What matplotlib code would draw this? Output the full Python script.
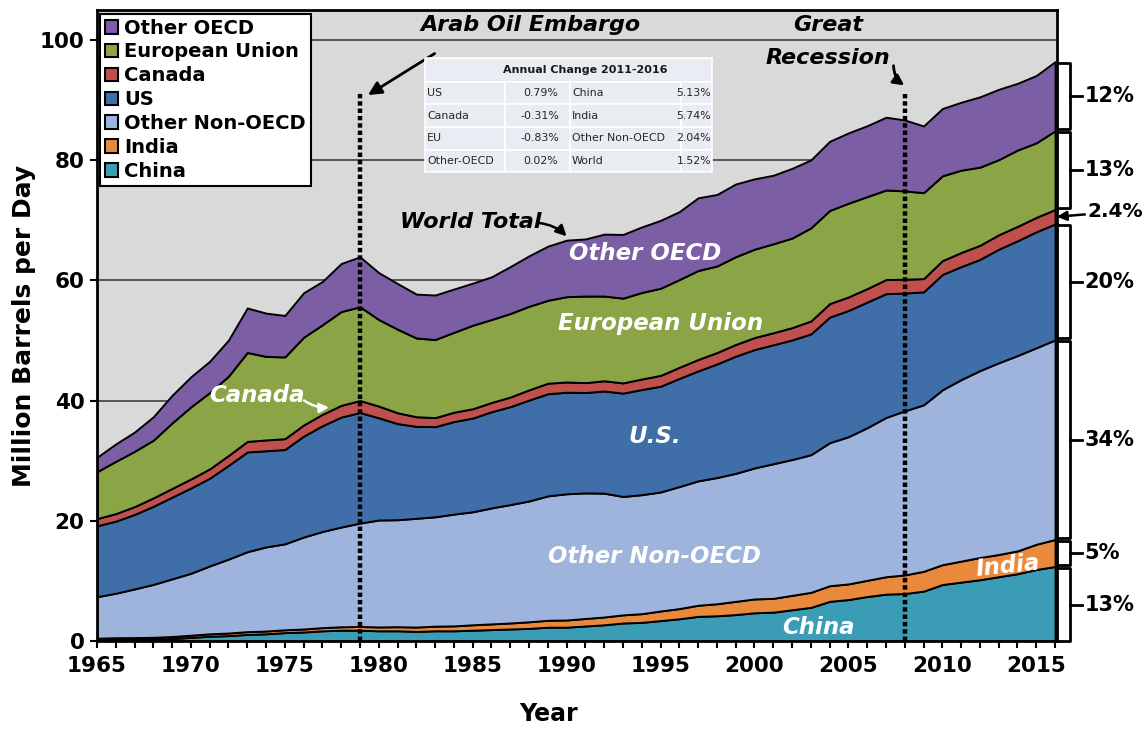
import numpy as np
import matplotlib
matplotlib.use("Agg")
import matplotlib.pyplot as plt
from matplotlib.patches import Patch, Rectangle

plt.rcParams['font.family'] = ['DejaVu Sans']

years = list(range(1965, 2017))

# million barrels per day (stack order bottom -> top)
china = [0.22, 0.28, 0.28, 0.31, 0.41, 0.6, 0.8, 0.9, 1.1, 1.2,
         1.4, 1.5, 1.7, 1.8, 1.8, 1.7, 1.7, 1.6, 1.7, 1.7,
         1.8, 1.9, 2.0, 2.1, 2.3, 2.3, 2.5, 2.7, 3.0, 3.1,
         3.4, 3.7, 4.1, 4.2, 4.4, 4.7, 4.8, 5.2, 5.6, 6.6,
         6.9, 7.4, 7.8, 7.9, 8.3, 9.4, 9.8, 10.2, 10.7, 11.2,
         11.9, 12.4]
india = [0.25, 0.27, 0.29, 0.31, 0.34, 0.37, 0.40, 0.43, 0.46, 0.46,
         0.47, 0.50, 0.53, 0.57, 0.62, 0.64, 0.68, 0.72, 0.77, 0.82,
         0.90, 0.95, 1.0, 1.1, 1.15, 1.2, 1.25, 1.3, 1.35, 1.45,
         1.6, 1.7, 1.85, 2.0, 2.2, 2.3, 2.3, 2.4, 2.5, 2.6,
         2.6, 2.7, 2.9, 3.1, 3.3, 3.3, 3.5, 3.7, 3.7, 3.8,
         4.2, 4.5]
other_non_oecd = [6.9, 7.4, 8.1, 8.8, 9.6, 10.3, 11.3, 12.3, 13.3, 14.0,
                  14.3, 15.3, 16.0, 16.6, 17.2, 17.8, 17.8, 18.1, 18.2, 18.6,
                  18.8, 19.3, 19.7, 20.1, 20.7, 21.0, 20.9, 20.6, 19.7, 19.8,
                  19.8, 20.3, 20.7, 21.0, 21.3, 21.8, 22.4, 22.6, 22.9, 23.8,
                  24.5, 25.4, 26.5, 27.3, 27.7, 29.1, 30.2, 31.1, 31.9, 32.5,
                  32.7, 33.2]
us = [11.8, 12.0, 12.4, 13.0, 13.6, 14.2, 14.6, 15.6, 16.6, 16.0,
      15.7, 16.8, 17.6, 18.3, 18.4, 17.0, 16.0, 15.3, 15.0, 15.4,
      15.6, 16.0, 16.3, 16.8, 17.0, 16.9, 16.7, 17.0, 17.2, 17.5,
      17.6, 18.0, 18.3, 18.9, 19.5, 19.7, 19.8, 19.9, 20.1, 20.9,
      21.0, 20.9, 20.6, 19.6, 18.8, 19.2, 18.8, 18.5, 18.9, 19.1,
      19.3, 19.3]
canada = [1.2, 1.25, 1.3, 1.4, 1.45, 1.5, 1.55, 1.65, 1.75, 1.8,
          1.8, 1.85, 1.9, 1.95, 2.0, 1.95, 1.8, 1.6, 1.5, 1.55,
          1.55, 1.55, 1.6, 1.7, 1.75, 1.7, 1.65, 1.7, 1.7, 1.75,
          1.8, 1.85, 1.9, 1.9, 1.95, 2.0, 2.0, 2.05, 2.15, 2.25,
          2.25, 2.25, 2.35, 2.3, 2.2, 2.3, 2.35, 2.35, 2.4, 2.4,
          2.4, 2.4]
eu = [7.8, 8.7, 9.2, 9.6, 10.9, 12.0, 12.7, 13.2, 14.8, 13.9,
      13.6, 14.6, 14.9, 15.6, 15.6, 14.4, 13.9, 13.1, 13.0, 13.3,
      13.9, 13.8, 13.9, 13.9, 13.8, 14.2, 14.4, 14.1, 14.1, 14.4,
      14.5, 14.6, 14.8, 14.4, 14.6, 14.7, 14.8, 14.9, 15.5, 15.5,
      15.6, 15.3, 14.9, 14.7, 14.3, 14.1, 13.7, 13.0, 12.5, 12.7,
      12.4, 13.1]
other_oecd = [2.4, 2.9, 3.2, 3.9, 4.6, 5.0, 5.2, 6.0, 7.4, 7.2,
              6.9, 7.4, 7.2, 8.0, 8.3, 7.8, 7.6, 7.3, 7.4, 7.2,
              7.0, 7.1, 7.8, 8.4, 9.0, 9.4, 9.5, 10.3, 10.6, 10.9,
              11.3, 11.3, 12.1, 11.9, 12.1, 11.7, 11.4, 11.6, 11.3, 11.5,
              11.7, 11.8, 12.1, 11.8, 11.1, 11.2, 11.3, 11.7, 11.7, 11.1,
              11.2, 11.5]

series_names = ['China', 'India', 'Other Non-OECD', 'US', 'Canada',
                'European Union', 'Other OECD']
colors = ['#3b9db5', '#e8893b', '#9fb4dd', '#3f6ea8', '#c0504d',
          '#8aa446', '#7b5ea3']

# 2016 shares printed at the right edge, bottom -> top (Canada gets an arrow)
share_labels = ['13%', '5%', '34%', '20%', '2.4%', '13%', '12%']

table_title = 'Annual Change 2011-2016'
table_rows = [('US', '0.79%', 'China', '5.13%'),
              ('Canada', '-0.31%', 'India', '5.74%'),
              ('EU', '-0.83%', 'Other Non-OECD', '2.04%'),
              ('Other-OECD', '0.02%', 'World', '1.52%')]


def main():
    fig = plt.figure(figsize=(11.45, 7.29), dpi=100)
    ax = fig.add_axes([0.0847, 0.1207, 0.8384, 0.8656])
    ax.set_facecolor('#d9d9d9')

    data = [china, india, other_non_oecd, us, canada, eu, other_oecd]
    polys = ax.stackplot(years, *data, colors=colors, zorder=2)
    for p in polys:
        p.set_edgecolor('black')
        p.set_linewidth(1.4)

    ax.set_xlim(1965, 2016.1)
    ax.set_ylim(0, 105)
    ax.set_yticks(range(0, 101, 20))
    ax.set_xticks(range(1965, 2016, 5))
    ax.set_xticks(years, minor=True)
    ax.grid(axis='y', color='#404040', lw=1.2, zorder=1)
    ax.set_axisbelow(True)
    for s in ax.spines.values():
        s.set_linewidth(2)
        s.set_zorder(6)
    ax.tick_params(which='both', direction='out', length=5, width=1.5)
    ax.tick_params(axis='x', pad=6)
    ax.tick_params(axis='y', pad=4)
    for lab in ax.get_xticklabels() + ax.get_yticklabels():
        lab.set_fontsize(15.5)
        lab.set_fontweight('bold')

    ax.set_ylabel('Million Barrels per Day', fontsize=18, fontweight='bold')
    ax.yaxis.set_label_coords(-0.064, 0.5)
    ax.set_xlabel('Year', fontsize=17, fontweight='bold')
    ax.xaxis.set_label_coords(0.47, -0.096)

    # legend, top series first
    handles = [Patch(facecolor=c, edgecolor='black', lw=1.5)
               for c in colors[::-1]]
    leg = ax.legend(handles, series_names[::-1], loc='upper left',
                    bbox_to_anchor=(0.003, 0.994), borderaxespad=0,
                    prop={'size': 14, 'weight': 'bold'}, frameon=True,
                    fancybox=False, framealpha=1, edgecolor='black',
                    handlelength=0.7, handleheight=0.7, handletextpad=0.3,
                    labelspacing=0.25, borderpad=0.25)
    leg.get_frame().set_linewidth(1.5)
    leg.set_zorder(7)

    # event lines
    for yr, top in [(1979, 91.3), (2008, 91.0)]:
        ax.plot([yr, yr], [0, top], color='black', lw=3.2,
                linestyle=(0, (1, 0.65)), zorder=5)

    ax.text(1988.1, 102.5, 'Arab Oil Embargo', ha='center', va='center',
            fontsize=16, fontweight='bold', style='italic', zorder=8)
    ax.annotate('', xy=(1979.3, 90.6), xytext=(1983.1, 98.0),
                arrowprops=dict(arrowstyle='-|>', color='black', lw=2,
                                mutation_scale=20), zorder=8)
    ax.text(2003.9, 102.5, 'Great', ha='center', va='center',
            fontsize=16, fontweight='bold', style='italic', zorder=8)
    ax.text(2003.9, 97.0, 'Recession', ha='center', va='center',
            fontsize=16, fontweight='bold', style='italic', zorder=8)
    ax.annotate('', xy=(2008.1, 92.2), xytext=(2007.4, 96.2),
                arrowprops=dict(arrowstyle='-|>', color='black', lw=2,
                                mutation_scale=16,
                                connectionstyle='arc3,rad=0.3'), zorder=8)

    ax.text(1984.9, 69.7, 'World Total', ha='center', va='center',
            fontsize=16, fontweight='bold', style='italic', zorder=8)
    ax.annotate('', xy=(1990.1, 67.0), xytext=(1988.4, 69.6),
                arrowprops=dict(arrowstyle='-|>', color='black', lw=1.8,
                                mutation_scale=16,
                                connectionstyle='arc3,rad=-0.2'), zorder=8)

    white = dict(color='white', fontsize=16.5, fontweight='bold',
                 style='italic', ha='center', va='center', zorder=8)
    ax.text(1994.2, 64.4, 'Other OECD', **white)
    ax.text(1995.0, 52.9, 'European Union', **white)
    ax.text(1994.7, 34.1, 'U.S.', **white)
    ax.text(1994.7, 14.1, 'Other Non-OECD', **white)
    ax.text(2003.4, 2.3, 'China', **white)
    ax.text(2013.5, 12.4, 'India', rotation=6, **white)
    ax.text(1973.5, 40.8, 'Canada', **white)
    ax.annotate('', xy=(1977.5, 38.9), xytext=(1975.9, 40.3),
                arrowprops=dict(arrowstyle='-|>', color='white', lw=1.8,
                                mutation_scale=14,
                                connectionstyle='arc3,rad=0.2'), zorder=8)

    # inset table (axes fraction coords)
    col_edges = [0.3417, 0.425, 0.4927, 0.6083, 0.6406]
    top, title_h, row_h = 0.924, 0.038, 0.0357
    cell_kw = dict(transform=ax.transAxes, facecolor='#e9ecf2',
                   edgecolor='white', lw=1.2, zorder=9)
    ax.add_patch(Rectangle((col_edges[0], top - title_h),
                           col_edges[-1] - col_edges[0], title_h, **cell_kw))
    ax.text(0.509, top - title_h / 2, table_title, transform=ax.transAxes,
            ha='center', va='center', fontsize=8, fontweight='bold',
            color='#1a1a1a', zorder=10)
    for r, row in enumerate(table_rows):
        y0 = top - title_h - (r + 1) * row_h
        for c in range(4):
            ax.add_patch(Rectangle((col_edges[c], y0),
                                   col_edges[c + 1] - col_edges[c], row_h,
                                   **cell_kw))
        tkw = dict(transform=ax.transAxes, va='center', fontsize=7.9,
                   color='#262626', zorder=10)
        yc = y0 + row_h / 2
        ax.text(col_edges[0] + 0.002, yc, row[0], ha='left', **tkw)
        ax.text((col_edges[1] + col_edges[2]) / 2 + 0.003, yc, row[1],
                ha='center', **tkw)
        ax.text(col_edges[2] + 0.002, yc, row[2], ha='left', **tkw)
        ax.text(col_edges[4] - 0.001, yc, row[3], ha='right', **tkw)

    # braces with 2016 shares on the right
    last = np.cumsum([s[-1] for s in data])
    lows = np.concatenate([[0], last[:-1]])
    yt = ax.get_yaxis_transform()
    for i, lab in enumerate(share_labels):
        lo, hi = lows[i], last[i]
        if series_names[i] == 'Canada':
            mid = (lo + hi) / 2
            ax.annotate(lab, xy=(1.0, mid), xycoords=yt,
                        xytext=(1.032, mid + 0.8), textcoords=yt,
                        fontsize=14.5, fontweight='bold', va='center',
                        ha='left',
                        arrowprops=dict(arrowstyle='-|>', color='black',
                                        lw=1.8, mutation_scale=14,
                                        shrinkA=0, shrinkB=0))
            continue
        gap = 0.25 if i > 0 else 0
        lo2, hi2 = lo + gap, hi - 0.25
        mid = (lo2 + hi2) / 2
        ax.plot([1.001, 1.0135, 1.0135, 1.001], [hi2, hi2, lo2, lo2],
                transform=yt, clip_on=False, color='black', lw=2)
        ax.plot([1.0135, 1.026], [mid, mid], transform=yt, clip_on=False,
                color='black', lw=2)
        ax.text(1.029, mid, lab, transform=yt, fontsize=15,
                fontweight='bold', va='center', ha='left')

    fig.savefig('out.png', dpi=100)


if __name__ == '__main__':
    main()
